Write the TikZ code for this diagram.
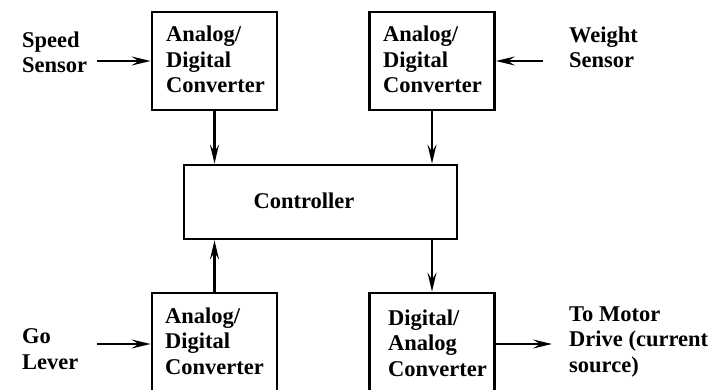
\documentclass[tikz,border=0pt]{standalone}
\usepackage{fontspec}
\setmainfont{Liberation Serif}
\usetikzlibrary{arrows.meta}
\begin{document}
\begin{tikzpicture}[x=1pt,y=-1pt,
  lbl/.style={font=\bfseries\fontsize{22.5}{25.5}\selectfont, align=left, inner sep=0pt, anchor=base west},
  blk/.style={draw, line width=2.8pt, minimum width=125pt, inner sep=0pt},
  conn/.style={line width=2.2pt, -{Stealth[length=19pt,width=9pt,inset=7pt]}}]
\useasboundingbox (0,0) rectangle (725,390);
\clip (0,0) rectangle (725,390);

% converter blocks and the controller
\node[blk, minimum height=98pt]  (ad1) at (214.5,61) {};
\node[blk, minimum height=98pt]  (ad2) at (432,61) {};
\node[blk, minimum width=273pt, minimum height=74pt] (ctrl) at (320.5,202) {};
\node[blk, minimum height=117pt] (ad3) at (214.5,351.5) {};
\node[blk, minimum height=117pt] (da)  at (432,351.5) {};

% block texts (placed by the baseline of their last line)
\node[lbl] (t1) at (166,93) {Analog/\\Digital\\Converter};
\node[lbl] (t2) at (383,93) {Analog/\\Digital\\Converter};
\node[lbl, anchor=base] (t3) at (304,208) {Controller};
\node[lbl] (t4) at (165,374) {Analog/\\Digital\\Converter};
\node[lbl] (t5) at (388,376) {Digital/\\Analog\\Converter};

% outside signals
\node[lbl] (speed)  at (22,73)  {Speed\\Sensor};
\node[lbl] (weight) at (569,68) {Weight\\Sensor};
\node[lbl] (go)     at (22,369) {Go\\Lever};
\node[lbl] (motor)  at (569,372) {To Motor\\Drive (current\\source)};

\coordinate (sIn) at (97,61);
\coordinate (wIn) at (543,61);
\coordinate (gIn) at (97,344);
\coordinate (mOut) at (552,344);

% signal flow
\draw[conn] (sIn) -- (ad1.west);
\draw[conn] (wIn) -- (ad2.east);
\draw[conn] (gIn) -- (gIn -| ad3.west);
\draw[conn] (ad1.south) -- (ad1.south |- ctrl.north);
\draw[conn] (ad2.south) -- (ad2.south |- ctrl.north);
\draw[conn] (ad3.north) -- (ad3.north |- ctrl.south);
\draw[conn] (da.north |- ctrl.south) -- (da.north);
\draw[conn] (mOut -| da.east) -- (mOut);
\end{tikzpicture}
\end{document}
